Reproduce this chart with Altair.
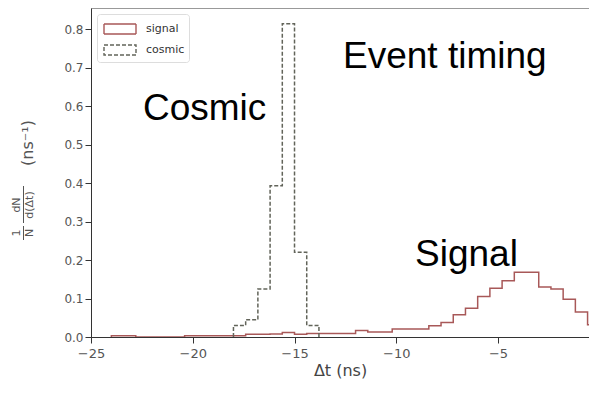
import altair as alt
import pandas as pd

# Histogram binning (ns)
bin_start = -24.0
bin_width = 0.6

# Signal histogram, 1/N dN/d(dt) per bin, bins from -24.0 to 0.0
signal_vals = [
    0.003, 0.003, 0.0, 0.0, 0.0, 0.0, 0.003, 0.003, 0.003, 0.003,
    0.003, 0.007, 0.007, 0.008, 0.012, 0.007, 0.009, 0.009, 0.009, 0.009,
    0.017, 0.013, 0.013, 0.021, 0.021, 0.021, 0.029, 0.038, 0.058, 0.075,
    0.105, 0.127, 0.146, 0.168, 0.168, 0.130, 0.125, 0.098, 0.065, 0.032,
]

# Cosmic histogram, bins from -18.0 to -13.8
cosmic_first_bin = 10
cosmic_vals = [0.030, 0.045, 0.125, 0.393, 0.814, 0.220, 0.030]

series_names = ["signal", "cosmic"]
x_ticks = [-25, -20, -15, -10, -5]
y_ticks = [0.0, 0.1, 0.2, 0.3, 0.4, 0.5, 0.6, 0.7, 0.8]


def step_rows(name, first_idx, vals):
    rows = []
    e0 = bin_start + first_idx * bin_width
    rows.append((name, e0, 0.0))
    for i, v in enumerate(vals):
        rows.append((name, round(bin_start + (first_idx + i) * bin_width, 3), v))
    e_end = round(bin_start + (first_idx + len(vals)) * bin_width, 3)
    rows.append((name, e_end, vals[-1]))
    rows.append((name, e_end, 0.0))
    return rows


rows = step_rows("signal", 0, signal_vals) + step_rows("cosmic", cosmic_first_bin, cosmic_vals)
df = pd.DataFrame(rows, columns=["series", "t", "v"])
df["order"] = range(len(df))

color_scale = alt.Scale(domain=series_names, range=["#a85858", "#62645a"])
dash_scale = alt.Scale(domain=series_names, range=[[1, 0], [4, 2]])

legend = alt.Legend(
    title=None,
    orient="none",
    legendX=6,
    legendY=6,
    symbolType="M-1.6,-0.5H1.6V0.5H-1.6Z",
    symbolSize=400,
    symbolStrokeWidth=1.4,
    symbolFillColor="transparent",
    symbolOffset=8,
    labelFont="DejaVu Sans",
    labelFontSize=11,
    labelColor="#333333",
    labelOffset=15,
    rowPadding=2,
    padding=4,
    fillColor="white",
    strokeColor="#dddddd",
    cornerRadius=3,
)

lines = alt.Chart(df).mark_line(interpolate="step-after", strokeWidth=1.5, clip=True).encode(
    x=alt.X(
        "t:Q",
        scale=alt.Scale(domain=[-25, -0.53], nice=False, zero=False),
        axis=alt.Axis(
            values=x_ticks,
            title="Δt (ns)",
            grid=False,
            labelFlush=False,
            domainColor="#333333",
            tickColor="#333333",
            tickSize=6,
            labelPadding=4,
            labelFont="DejaVu Sans",
            labelFontSize=13,
            labelColor="#555555",
            titleFont="DejaVu Sans",
            titleFontSize=16,
            titleFontWeight="normal",
            titleColor="#444444",
            titlePadding=2,
        ),
    ),
    y=alt.Y(
        "v:Q",
        scale=alt.Scale(domain=[0, 0.855], nice=False),
        axis=alt.Axis(
            values=y_ticks,
            format=".1f",
            title=None,
            grid=False,
            domainColor="#333333",
            tickColor="#333333",
            tickSize=6,
            labelPadding=2,
            labelFont="DejaVu Sans",
            labelFontSize=12,
            labelColor="#555555",
        ),
    ),
    color=alt.Color("series:N", scale=color_scale, legend=legend),
    strokeDash=alt.StrokeDash("series:N", scale=dash_scale, legend=legend),
    order="order:Q",
    detail="series:N",
)

ann_texts = ["Event timing", "Cosmic", "Signal"]
ytitle_texts = ["1", "N", "dN", "d(Δt)", "(ns⁻¹)"]
txt_df = pd.DataFrame({"label": ann_texts + ytitle_texts})


def text_at(text, px, py, size, angle=0, color="#000000", font="Liberation Sans",
            align="left", baseline="alphabetic"):
    return alt.Chart(txt_df[txt_df.label == text]).mark_text(
        align=align, baseline=baseline, font=font, fontSize=size, color=color, angle=angle
    ).encode(text="label:N", x=alt.value(px), y=alt.value(py))


def bar_at(px, py1, py2):
    return alt.Chart(txt_df.head(1)).mark_rule(color="#555555", strokeWidth=1).encode(
        x=alt.value(px), y=alt.value(py1), y2=alt.value(py2)
    )


# y-axis title, drawn rotated to the left of the plot (offsets relative to plot origin)
ox, oy = 91, 8
ytitle = [
    text_at("1", 17 - ox, 233 - oy, 11, 270, "#555555", "DejaVu Sans", "center", "middle"),
    text_at("N", 30 - ox, 233 - oy, 11, 270, "#555555", "DejaVu Sans", "center", "middle"),
    text_at("dN", 17 - ox, 205 - oy, 11, 270, "#555555", "DejaVu Sans", "center", "middle"),
    text_at("d(Δt)", 30 - ox, 205 - oy, 11, 270, "#555555", "DejaVu Sans", "center", "middle"),
    bar_at(23.5 - ox, 226 - oy, 240 - oy),
    bar_at(23.5 - ox, 186 - oy, 223 - oy),
    text_at("(ns⁻¹)", 28 - ox, 143 - oy, 16, 270, "#555555", "DejaVu Sans", "center", "middle"),
]

chart = alt.layer(
    lines,
    text_at("Event timing", 252, 60, 37),
    text_at("Cosmic", 52, 112, 37),
    text_at("Signal", 324, 258, 37),
    *ytitle,
).properties(
    width=498,
    height=329,
    autosize=alt.AutoSizeParams(type="none"),
    padding={"left": 83, "top": 0, "right": 0, "bottom": 44},
    background="white",
).configure_view(stroke="#999999", strokeWidth=1)

chart.save("out.html", embed_options={"renderer": "svg", "actions": False})
